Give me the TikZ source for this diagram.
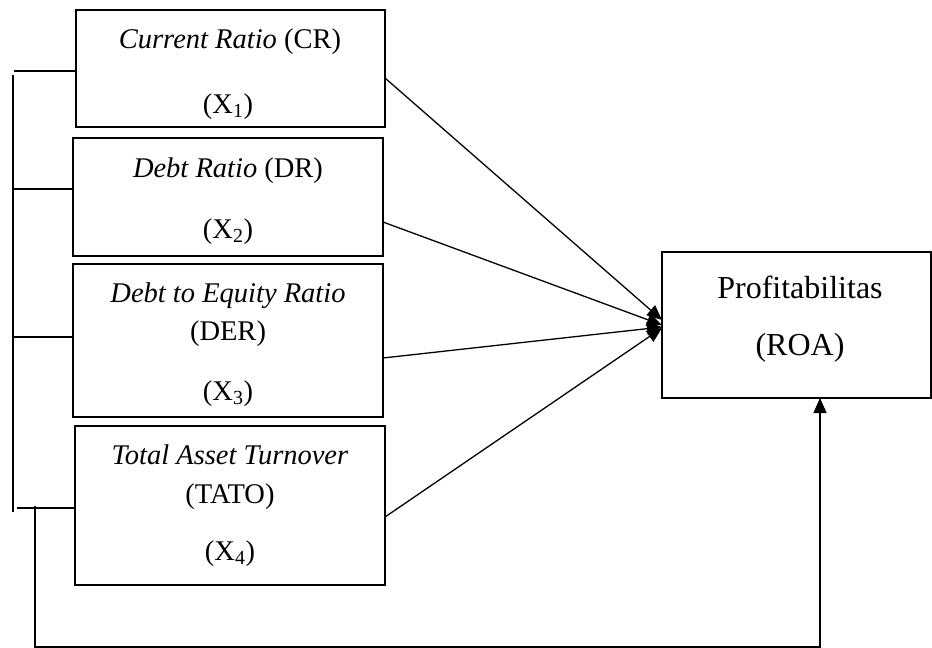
\documentclass[tikz,border=0pt]{standalone}
\usepackage{fontspec}
\setmainfont{Liberation Serif}
\usetikzlibrary{arrows.meta}
\begin{document}
\begin{tikzpicture}[x=1pt,y=-1pt,
  varbox/.style={draw, line width=2.9pt, inner sep=0pt, outer sep=0pt},
  lbl/.style={anchor=base, inner sep=0pt, font=\fontsize{28.5}{30}\selectfont},
  roalbl/.style={anchor=base, inner sep=0pt, font=\fontsize{32}{34}\selectfont},
  conn/.style={draw, line width=1.3pt},
  arr/.style={conn, -{Triangle[length=15pt,width=13pt]}}
]
\useasboundingbox (0,0) rectangle (932,648);

% boxes
\node[varbox, minimum width=309pt, minimum height=117pt] (b1) at (230.5,68.5) {};
\node[varbox, minimum width=310pt, minimum height=118pt] (b2) at (228,197) {};
\node[varbox, minimum width=310pt, minimum height=153pt] (b3) at (228,340.5) {};
\node[varbox, minimum width=310pt, minimum height=159pt] (b4) at (230,505.5) {};
\node[varbox, minimum width=269pt, minimum height=146pt] (roa) at (796.5,325) {};

% labels
\node[lbl] (t1a) at (230,48) {\textit{Current Ratio} (CR)};
\node[lbl] (t1b) at (228,113) {(X\textsubscript{1})};
\node[lbl] (t2a) at (228,177) {\textit{Debt Ratio} (DR)};
\node[lbl] (t2b) at (228,238) {(X\textsubscript{2})};
\node[lbl] (t3a) at (228,302) {\textit{Debt to Equity Ratio}};
\node[lbl] (t3b) at (228,340) {(DER)};
\node[lbl] (t3c) at (228,400) {(X\textsubscript{3})};
\node[lbl] (t4a) at (230,464) {\textit{Total Asset Turnover}};
\node[lbl] (t4b) at (230,503) {(TATO)};
\node[lbl] (t4c) at (230,560) {(X\textsubscript{4})};
\node[roalbl] (r1) at (800,298) {Profitabilitas};
\node[roalbl] (r2) at (800,355) {(ROA)};

% arrows to ROA
\draw[arr] ([yshift=-9.5pt]b1.east) -- ([yshift=5pt]roa.west);
\draw[arr] ([yshift=-25pt]b2.east) -- (roa.west);
\draw[arr] ([yshift=-17.5pt]b3.east) -- ([yshift=-2pt]roa.west);
\draw[arr] ([yshift=-11.5pt]b4.east) -- ([yshift=-3pt]roa.west);

% left bracket
\coordinate (s1) at (14,71);
\coordinate (s2) at (14,189);
\coordinate (s3) at (14,337);
\coordinate (s4) at (17,508);
\draw[conn] (s1) -- (s1 -| b1.west);
\draw[conn] (s2) -- (s2 -| b2.west);
\draw[conn] (s3) -- (s3 -| b3.west);
\draw[conn] (s4) -- (s4 -| b4.west);
\coordinate (vt) at (13,75);
\coordinate (vb) at (13,512);
\draw[conn] (vt) -- (vb);

% simultaneous path to ROA
\coordinate (c1) at (35,506);
\coordinate (fb) at (820,647);
\draw[arr] (c1) |- (fb) -- (fb |- roa.south);
\end{tikzpicture}
\end{document}
